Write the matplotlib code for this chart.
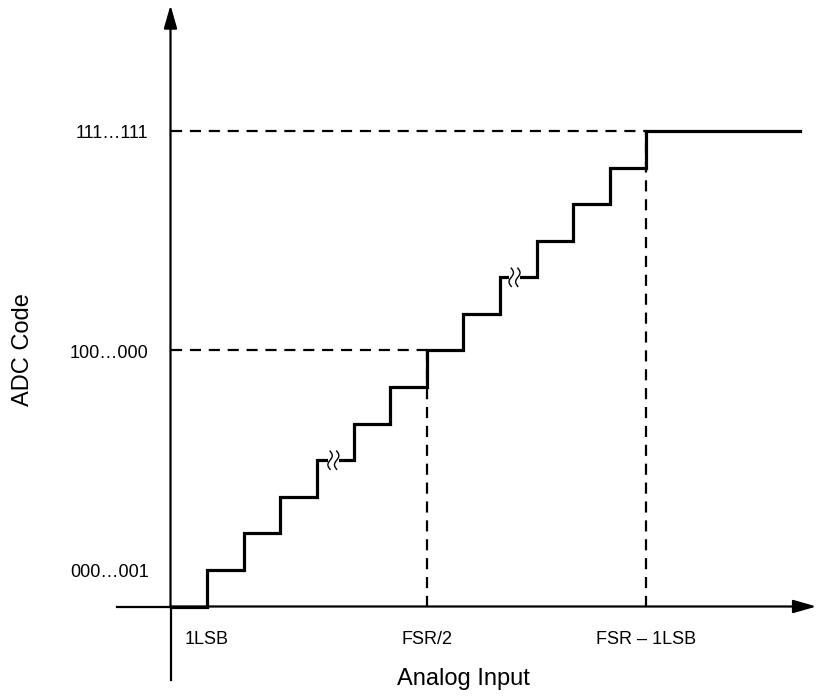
import numpy as np
import matplotlib
matplotlib.use('Agg')
import matplotlib.pyplot as plt

plt.rcParams['font.family'] = ['Liberation Sans', 'DejaVu Sans']

# Transfer function: code steps up by 1 at each LSB
edges = [0, 1, 2, 3, 4, 5, 6, 7, 8, 9, 10, 11, 12, 13, 17.2]
codes = [0, 1, 2, 3, 4, 5, 6, 7, 8, 9, 10, 11, 12, 13, 13]

y_ticks = [1, 7, 13]
y_labels = ['000…001', '100…000', '111…111']
x_ticks = [1, 7, 13]
x_labels = ['1LSB', 'FSR/2', 'FSR – 1LSB']
breaks = [(4.45, 4), (9.4, 9)]  # "not to scale" marks on the staircase

fig = plt.figure(figsize=(8.17, 6.96), dpi=100)
ax = fig.add_axes([0, 0, 1, 1])
ax.set_xlim(-170.5 / 36.6, (817 - 170.5) / 36.6)
ax.set_ylim(-(696 - 606.5) / 36.58, 606.5 / 36.58)
ax.axis('off')

# axes with arrows
arrow = dict(arrowstyle='-|>,head_length=0.7,head_width=0.2', color='black',
             lw=1.6, mutation_scale=20, shrinkA=0, shrinkB=0)
ax.plot([-1.45, 0], [0, 0], color='black', lw=1.6)
ax.plot([0, 0], [-2.0, 0], color='black', lw=1.6)
ax.annotate('', xy=(17.65, 0), xytext=(0, 0), arrowprops=arrow)
ax.annotate('', xy=(0, 16.44), xytext=(0, 0), arrowprops=arrow)

# dashed guides
for v in [7, 13]:
    ax.plot([0, v], [v, v], color='black', lw=1.6, ls=(0, (5, 3.5)))
    ax.plot([v, v], [0, v], color='black', lw=1.6, ls=(0, (5, 3.5)))

# staircase
ax.step(edges, codes, where='post', color='black', lw=2.3, solid_joinstyle='miter')

# break marks
for bx, by in breaks:
    ax.plot([bx - 0.15, bx + 0.15], [by, by], color='white', lw=4, solid_capstyle='butt')
    t = np.linspace(-1, 1, 40)
    for dx in (-0.09, 0.09):
        ax.plot(bx + dx + 0.06 * np.sin(np.pi * t), by + 0.25 * t, color='black', lw=1.0)

# labels
for v, lab in zip(y_ticks, y_labels):
    ax.text(-0.6, v - 0.08, lab, ha='right', va='center', fontsize=13)
for v, lab in zip(x_ticks, x_labels):
    ax.text(v, -0.89, lab, ha='center', va='center', fontsize=13)
ax.text(8.0, -1.98, 'Analog Input', ha='center', va='center', fontsize=17)
ax.text(-4.03, 7.03, 'ADC Code', ha='center', va='center', rotation=90, fontsize=17)

fig.savefig('out.png', dpi=100)
